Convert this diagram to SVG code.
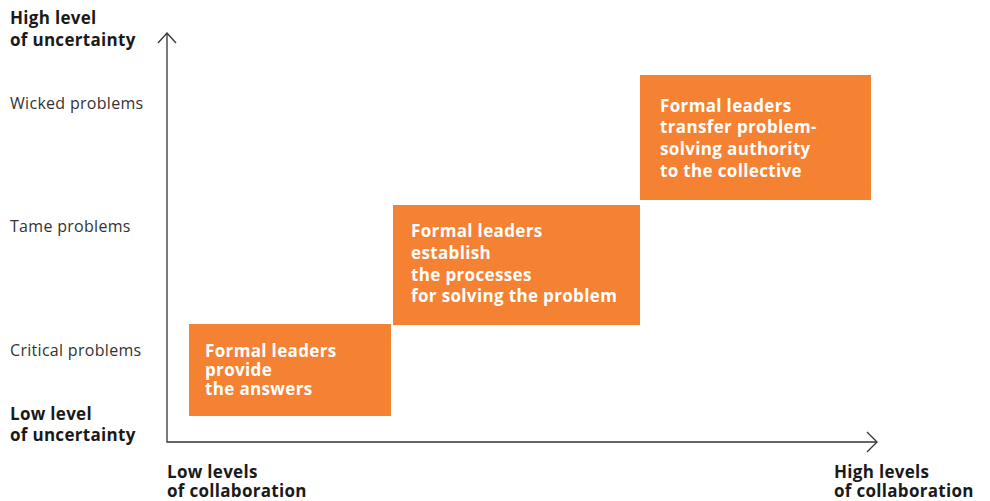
<svg xmlns="http://www.w3.org/2000/svg" width="990" height="501" viewBox="0 0 990 501">
<style>
.ax{font-family:"Open Sans","Noto Sans",sans-serif;font-weight:700;font-size:17px;letter-spacing:0.3px;fill:#1a1a1a}
.lv{font-family:"Open Sans","Noto Sans",sans-serif;font-size:16px;letter-spacing:0.3px;fill:#333}
.bx{fill:#F58233}
.bt{font-family:"Open Sans","Noto Sans",sans-serif;font-weight:700;font-size:17px;letter-spacing:0.35px;fill:#fff}
.ln{stroke:#333;stroke-width:1.3;fill:none}
</style>
<rect width="990" height="501" fill="#fff"/>
<g id="axes">
<path class="ln" d="M167 33V442H877"/>
<path class="ln" d="M158 43L167 33L176 43"/>
<path class="ln" d="M867 432L877 442L867 452"/>
</g>
<g id="axis-labels">
<text class="ax" x="10" y="24">High level<tspan x="10" y="46">of uncertainty</tspan></text>
<text class="ax" x="10" y="420">Low level<tspan x="10" y="441">of uncertainty</tspan></text>
<text class="ax" x="167" y="478">Low levels<tspan x="167" y="497">of collaboration</tspan></text>
<text class="ax" x="834" y="478">High levels<tspan x="834" y="497">of collaboration</tspan></text>
</g>
<g id="levels">
<text class="lv" x="10" y="109">Wicked problems</text>
<text class="lv" x="10" y="232">Tame problems</text>
<text class="lv" x="10" y="356">Critical problems</text>
</g>
<g id="node-critical">
<rect class="bx" x="189" y="324" width="202" height="92"/>
<text class="bt" x="205" y="357">Formal leaders<tspan x="205" y="376">provide</tspan><tspan x="205" y="395">the answers</tspan></text>
</g>
<g id="node-tame">
<rect class="bx" x="393" y="205" width="247" height="120"/>
<text class="bt" x="411" y="237">Formal leaders<tspan x="411" y="259">establish</tspan><tspan x="411" y="281">the processes</tspan><tspan x="411" y="302">for solving the problem</tspan></text>
</g>
<g id="node-wicked">
<rect class="bx" x="640" y="75" width="231" height="125"/>
<text class="bt" x="660" y="112">Formal leaders<tspan x="660" y="133">transfer problem-</tspan><tspan x="660" y="155">solving authority</tspan><tspan x="660" y="177">to the collective</tspan></text>
</g>
</svg>
